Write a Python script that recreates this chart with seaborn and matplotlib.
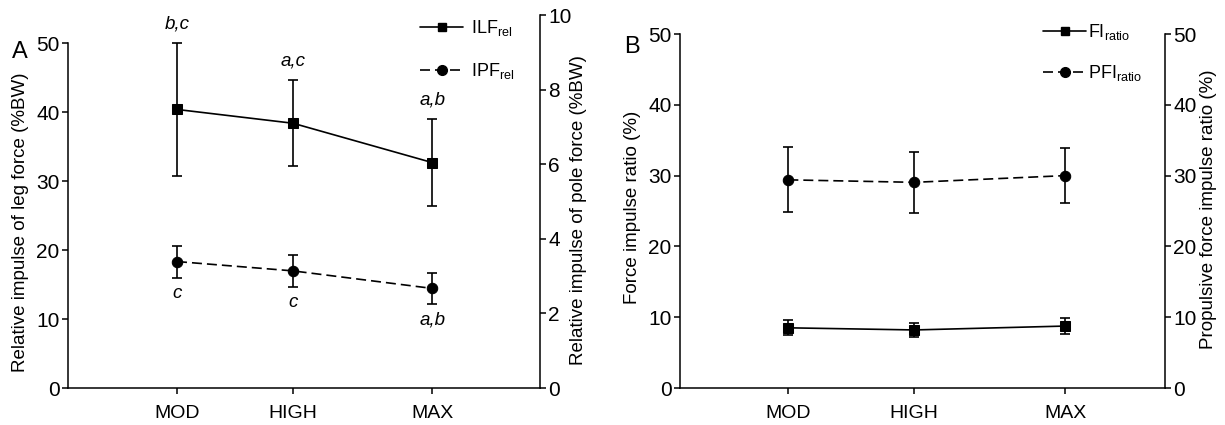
import matplotlib
matplotlib.use("Agg")
import matplotlib.pyplot as plt
from matplotlib.lines import Line2D
import seaborn as sns

sns.set_style("ticks", {"axes.edgecolor": "k", "text.color": "k",
                        "axes.labelcolor": "k", "xtick.color": "k",
                        "ytick.color": "k"})
plt.rcParams["font.family"] = ["Liberation Sans", "DejaVu Sans"]
plt.rcParams["mathtext.default"] = "regular"
plt.rcParams["axes.linewidth"] = 1.1

# Data
categories = ["MOD", "HIGH", "MAX"]

# Panel A: relative impulse (%BW)
ilf_mean = [40.4, 38.4, 32.7]
ilf_sd = [9.6, 6.2, 6.3]
ipf_mean = [3.39, 3.14, 2.67]
ipf_sd = [0.43, 0.42, 0.42]
ilf_letters = ["b,c", "a,c", "a,b"]
ipf_letters = ["c", "c", "a,b"]

# Panel B: impulse ratios (%)
fi_mean = [8.5, 8.2, 8.75]
fi_sd = [1.05, 1.0, 1.15]
pfi_mean = [29.4, 29.05, 30.0]
pfi_sd = [4.6, 4.35, 3.9]

# x positions of the intensities (unevenly spaced in the original)
x_pos = [1, 2, 3.2]

DASH = (0, (6, 3))
LABEL_FS = 13.5


def draw_series(ax, mean, sd, marker, ls, ms):
    ax.errorbar(x_pos, mean, yerr=sd, fmt="none", ecolor="k",
                elinewidth=1.2, capsize=3.5, capthick=1.2, zorder=2)
    sns.lineplot(x=x_pos, y=mean, ax=ax, color="k", linewidth=1.2,
                 linestyle=ls, marker=marker, markersize=ms,
                 markerfacecolor="k", markeredgecolor="k", zorder=3)


def style_axes(ax, ax2):
    ax.spines["top"].set_visible(False)
    ax.spines["right"].set_visible(False)
    for s in ["top", "left", "bottom"]:
        ax2.spines[s].set_visible(False)
    ax.tick_params(axis="y", direction="out", length=4, width=1.1,
                   pad=2, labelsize=15)
    ax.tick_params(axis="x", direction="out", length=4, width=1.1,
                   pad=8, labelsize=14)
    ax2.tick_params(axis="y", direction="out", length=4, width=1.1,
                    pad=2, labelsize=15)
    ax.set_xticks(x_pos)
    ax.set_xticklabels(categories)


def legend(ax, labels, anchor, spacing, textpad):
    handles = [
        Line2D([], [], color="k", lw=1.2, marker="s", markersize=6),
        Line2D([], [], color="k", lw=1.2, linestyle=DASH, marker="o",
               markersize=7),
    ]
    ax.legend(handles, labels, loc="upper left", bbox_to_anchor=anchor,
              bbox_transform=ax.figure.transFigure, frameon=False,
              fontsize=13, handlelength=2.4, handletextpad=textpad,
              labelspacing=spacing, borderpad=0, borderaxespad=0)


fig = plt.figure(figsize=(12.25, 4.25), dpi=100)

# ---- Panel A ----
axA = fig.add_axes([68 / 1225, 1 - 388 / 425, 472 / 1225, 373 / 425])
axA2 = axA.twinx()
draw_series(axA, ilf_mean, ilf_sd, "s", "-", 6.5)
draw_series(axA2, ipf_mean, ipf_sd, "o", DASH, 7.5)
axA.set_xlim(0.06, 4.13)
axA.set_ylim(0, 54.1)
axA.spines["left"].set_bounds(0, 50)
axA.set_yticks(range(0, 51, 10))
axA2.set_ylim(0, 10)
axA2.set_yticks(range(0, 11, 2))
style_axes(axA, axA2)

for x, m, s, t in zip(x_pos, ilf_mean, ilf_sd, ilf_letters):
    axA.annotate(t, (x, m + s), xytext=(0, 14), textcoords="offset points",
                 ha="center", va="center", style="italic", fontsize=LABEL_FS)
for x, m, s, t in zip(x_pos, ipf_mean, ipf_sd, ipf_letters):
    axA2.annotate(t, (x, m - s), xytext=(0, -11.5), textcoords="offset points",
                  ha="center", va="center", style="italic", fontsize=LABEL_FS)

axA.set_ylabel("Relative impulse of leg force (%BW)", fontsize=LABEL_FS)
axA.yaxis.set_label_coords(-0.083, 0.445)
axA2.set_ylabel("Relative impulse of pole force (%BW)", fontsize=LABEL_FS)
axA2.yaxis.set_label_coords(1.064, 0.477)
fig.text(20 / 1225, 1 - 52 / 425, "A", fontsize=17, ha="center", va="center")
legend(axA2, [r"ILF$_{rel}$", r"IPF$_{rel}$"], (420 / 1225, 1 - 18 / 425),
       1.28, 0.4)

# ---- Panel B ----
axB = fig.add_axes([680 / 1225, 1 - 388 / 425, 485 / 1225, 354 / 425])
axB2 = axB.twinx()
draw_series(axB, fi_mean, fi_sd, "s", "-", 6.5)
draw_series(axB2, pfi_mean, pfi_sd, "o", DASH, 7.5)
axB.set_xlim(0.14, 3.99)
axB.set_ylim(0, 50)
axB.set_yticks(range(0, 51, 10))
axB2.set_ylim(0, 50)
axB2.set_yticks(range(0, 51, 10))
style_axes(axB, axB2)

axB.set_ylabel("Force impulse ratio (%)", fontsize=LABEL_FS)
axB.yaxis.set_label_coords(-0.080, 0.51)
axB2.set_ylabel("Propulsive force impulse ratio (%)", fontsize=LABEL_FS)
axB2.yaxis.set_label_coords(1.072, 0.505)
fig.text(632 / 1225, 1 - 47 / 425, "B", fontsize=17, ha="center", va="center")
legend(axB2, [r"FI$_{ratio}$", r"PFI$_{ratio}$"], (1043 / 1225, 1 - 22 / 425),
       1.17, 0.1)

fig.savefig("out.png", dpi=100)
